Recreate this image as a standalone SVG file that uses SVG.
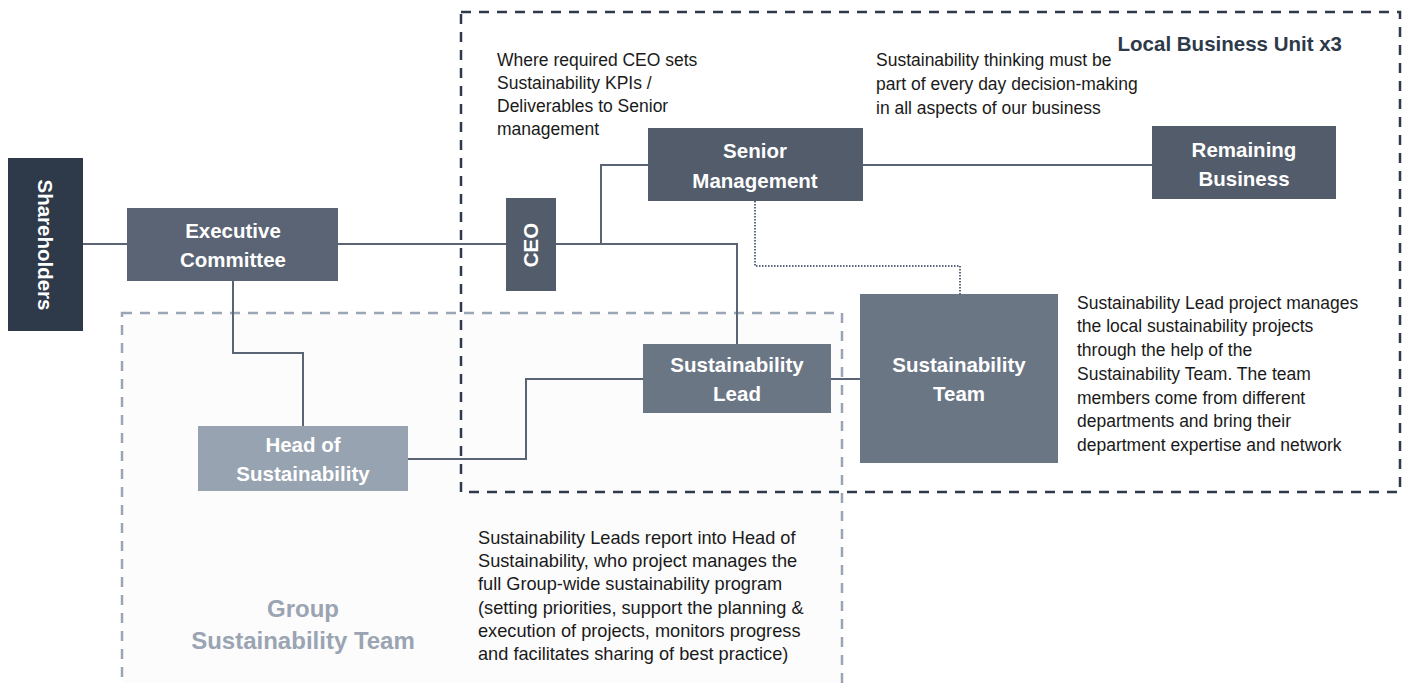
<svg xmlns="http://www.w3.org/2000/svg" width="1410" height="683" viewBox="0 0 1410 683">
<style>
.node text{font-family:"Liberation Sans",Arial,sans-serif;font-weight:bold;font-size:20.5px;fill:#ffffff;text-anchor:middle}
.note{font-family:"Liberation Sans",Arial,sans-serif;font-size:17.5px;fill:#1a1a1a}
.note2{font-family:"Liberation Sans",Arial,sans-serif;font-size:18.2px;fill:#1a1a1a}
.conn{fill:none;stroke:#5a6474;stroke-width:2}
.dot{fill:none;stroke:#5a6a80;stroke-width:2;stroke-dasharray:1.5 1.5}
</style>
<rect width="1410" height="683" fill="#ffffff"/>
<g id="group-team">
<rect x="122" y="313" width="720" height="380" fill="#fcfcfd" stroke="#9aa6b5" stroke-width="2.5" stroke-dasharray="10 8"/>
<text x="303" y="617" font-family="Liberation Sans,Arial,sans-serif" font-weight="bold" font-size="24" fill="#9aa4b2" text-anchor="middle">Group</text>
<text x="303" y="649" font-family="Liberation Sans,Arial,sans-serif" font-weight="bold" font-size="24" fill="#9aa4b2" text-anchor="middle">Sustainability Team</text>
</g>
<g id="local-unit">
<rect x="461" y="12" width="939" height="480" fill="none" stroke="#2e3a4a" stroke-width="2.5" stroke-dasharray="10 8"/>
<text x="1342" y="51" font-family="Liberation Sans,Arial,sans-serif" font-weight="bold" font-size="20.5" fill="#2e3a4a" text-anchor="end">Local Business Unit x3</text>
</g>
<g id="connectors">
<path class="conn" d="M83 244H127"/>
<path class="conn" d="M338 244H506"/>
<path class="conn" d="M556 244H601V165H648"/>
<path class="conn" d="M556 244H737V344"/>
<path class="conn" d="M233 281V353H303V426"/>
<path class="conn" d="M408 459H526V379H643"/>
<path class="conn" d="M831 379H860"/>
<path class="conn" d="M863 165H1152"/>
<path class="dot" d="M755 201V266H960V294"/>
</g>
<g id="shareholders" class="node">
<rect x="8" y="158" width="75" height="173" fill="#2e3a4a"/>
<text transform="translate(38 245) rotate(90)">Shareholders</text>
</g>
<g id="executive-committee" class="node">
<rect x="127" y="208" width="211" height="73" fill="#5a6474"/>
<text x="233" y="238">Executive</text>
<text x="233" y="267">Committee</text>
</g>
<g id="ceo" class="node">
<rect x="506" y="198" width="50" height="93" fill="#525c6a"/>
<text transform="translate(538 245) rotate(-90)">CEO</text>
</g>
<g id="senior-management" class="node">
<rect x="648" y="128" width="215" height="73" fill="#525c6a"/>
<text x="755" y="158">Senior</text>
<text x="755" y="188">Management</text>
</g>
<g id="remaining-business" class="node">
<rect x="1152" y="126" width="184" height="73" fill="#525c6a"/>
<text x="1244" y="157">Remaining</text>
<text x="1244" y="186">Business</text>
</g>
<g id="sustainability-lead" class="node">
<rect x="643" y="344" width="188" height="69" fill="#6b7685"/>
<text x="737" y="372">Sustainability</text>
<text x="737" y="401">Lead</text>
</g>
<g id="sustainability-team" class="node">
<rect x="860" y="294" width="198" height="169" fill="#6b7685"/>
<text x="959" y="372">Sustainability</text>
<text x="959" y="401">Team</text>
</g>
<g id="head-of-sustainability" class="node">
<rect x="198" y="426" width="210" height="65" fill="#98a3b1"/>
<text x="303" y="452">Head of</text>
<text x="303" y="481">Sustainability</text>
</g>
<g id="notes">
<text class="note" x="497" y="66">Where required CEO sets</text>
<text class="note" x="497" y="89">Sustainability KPIs /</text>
<text class="note" x="497" y="112">Deliverables to Senior</text>
<text class="note" x="497" y="135">management</text>
<text class="note" x="876" y="66">Sustainability thinking must be</text>
<text class="note" x="876" y="90">part of every day decision-making</text>
<text class="note" x="876" y="114">in all aspects of our business</text>
<text class="note" x="1077" y="309">Sustainability Lead project manages</text>
<text class="note" x="1077" y="332">the local sustainability projects</text>
<text class="note" x="1077" y="356">through the help of the</text>
<text class="note" x="1077" y="380">Sustainability Team. The team</text>
<text class="note" x="1077" y="404">members come from different</text>
<text class="note" x="1077" y="427">departments and bring their</text>
<text class="note" x="1077" y="451">department expertise and network</text>
<text class="note2" x="478" y="544">Sustainability Leads report into Head of</text>
<text class="note2" x="478" y="567">Sustainability, who project manages the</text>
<text class="note2" x="478" y="590">full Group-wide sustainability program</text>
<text class="note2" x="478" y="614">(setting priorities, support the planning &amp;</text>
<text class="note2" x="478" y="637">execution of projects, monitors progress</text>
<text class="note2" x="478" y="660">and facilitates sharing of best practice)</text>
</g>
</svg>
